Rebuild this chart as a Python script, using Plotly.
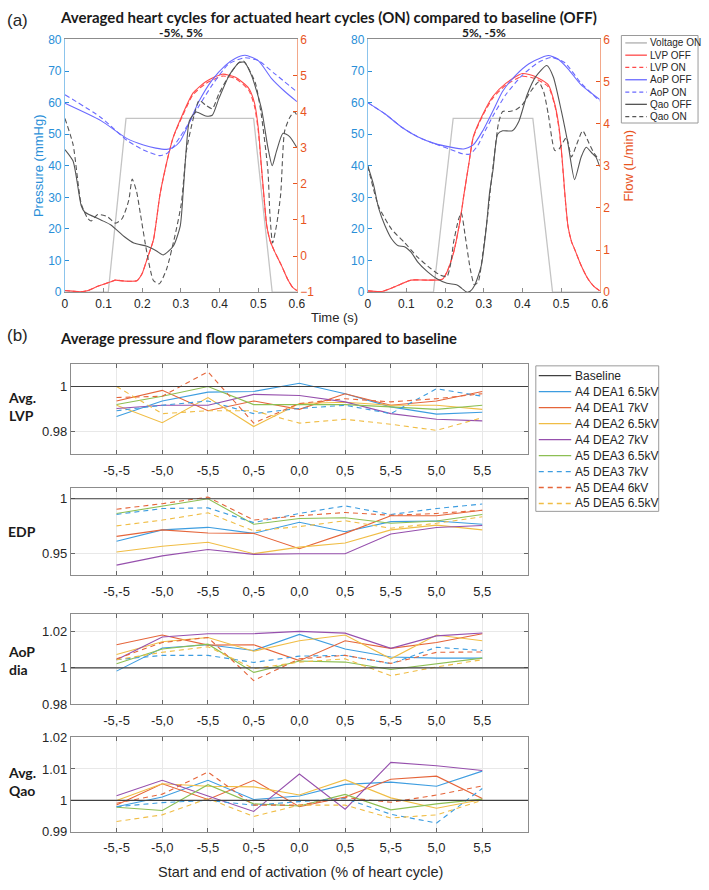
import plotly.graph_objects as go

W, H = 709, 890

# ================= (a) heart cycle data =================
# Left panel: activation -5%, 5%
T_VOLT_L = [0, 0.112, 0.158, 0.488, 0.536, 0.6]
VOLT_L = [0, 0, 55, 55, 0, 0]

T_LVP_L = [0, 0.02, 0.04, 0.06, 0.085, 0.119, 0.131, 0.153, 0.186, 0.199, 0.212, 0.229, 0.246, 0.265,
           0.28, 0.305, 0.331, 0.364, 0.407, 0.441, 0.475, 0.49, 0.5, 0.508, 0.515, 0.522, 0.53,
           0.542, 0.559, 0.576, 0.589, 0.6]
LVP_OFF_L = [0.5, 0.3, 0.1, 0.5, 1.85, 3.3, 3.8, 3.5, 3.6, 5.7, 10.3, 16.6, 31, 42,
             49, 56.5, 63, 66.6, 69, 68, 64.6, 60, 52, 40, 30, 21, 16.5,
             12.9, 8.7, 4.1, 1.5, 0.5]
LVP_ON_L = [0.5, 0.3, 0.1, 0.5, 1.85, 3.3, 3.8, 3.5, 3.6, 5.7, 10.3, 16.6, 31, 42,
            49, 56, 62.5, 66, 68.4, 67.6, 64, 59, 51, 39.5, 29.5, 21, 16.5,
            12.9, 8.7, 4.1, 1.5, 0.5]

T_AOP_OFF_L = [0, 0.093, 0.161, 0.203, 0.235, 0.263, 0.28, 0.297, 0.322, 0.347, 0.381, 0.415, 0.44,
               0.466, 0.5, 0.534, 0.568, 0.6]
AOP_OFF_L = [59.8, 54.3, 48.6, 46.6, 45.6, 45.2, 45.8, 47.6, 53.8, 60.5, 67.2, 71.8, 74,
             75, 73.3, 67.7, 63.6, 60.3]
T_AOP_ON_L = [0, 0.093, 0.161, 0.203, 0.246, 0.265, 0.28, 0.297, 0.322, 0.347, 0.381, 0.424, 0.466,
              0.5, 0.542, 0.6]
AOP_ON_L = [62.5, 55.3, 48, 45, 43.2, 44, 46, 49, 53.8, 59, 65.6, 72.3, 74.2,
            73.3, 69.2, 63.4]

T_QAO_OFF_L = [0, 0.021, 0.042, 0.051, 0.093, 0.119, 0.153, 0.178, 0.212, 0.237, 0.254, 0.28, 0.298,
               0.306, 0.314, 0.322, 0.339, 0.364, 0.381, 0.398, 0.424, 0.449, 0.464, 0.483, 0.508,
               0.525, 0.536, 0.547, 0.564, 0.581, 0.6]
QAO_OFF_L = [2.95, 2.63, 1.4, 1.22, 1.0, 0.86, 0.54, 0.36, 0.27, 0.14, 0.03, 0.27, 0.82,
             1.8, 3.0, 3.75, 3.99, 3.88, 3.9, 4.36, 4.99, 5.35, 5.37, 4.99, 4.09,
             3.0, 2.5, 2.9, 3.4, 3.31, 3.0]
T_QAO_ON_L = [0, 0.021, 0.042, 0.059, 0.068, 0.085, 0.11, 0.131, 0.148, 0.165, 0.174, 0.185, 0.195,
              0.212, 0.229, 0.244, 0.263, 0.284, 0.301, 0.314, 0.331, 0.347, 0.364, 0.381, 0.398,
              0.424, 0.449, 0.462, 0.492, 0.508, 0.525, 0.53, 0.537, 0.548, 0.558, 0.568, 0.581,
              0.593, 0.6]
QAO_ON_L = [3.81, 3.09, 1.45, 1.04, 0.97, 1.15, 1.09, 0.91, 1.04, 1.54, 2.13, 1.8, 1.18,
            0.09, -0.68, -0.77, -0.36, 0.54, 1.45, 2.9, 3.77, 4.31, 4.18, 4.08, 4.49,
            4.99, 5.35, 5.4, 4.81, 3.9, 2.36, 1.18, 0.36, 0.9, 1.72, 3.45, 3.83,
            4.0, 3.9]

# Right panel: activation 5%, -5%
T_VOLT_R = [0, 0.17, 0.221, 0.427, 0.478, 0.6]
VOLT_R = [0, 0, 55, 55, 0, 0]

T_LVP_R = [0, 0.036, 0.07, 0.112, 0.155, 0.193, 0.205, 0.222, 0.239, 0.249, 0.262, 0.273, 0.298,
           0.324, 0.357, 0.4, 0.434, 0.467, 0.484, 0.495, 0.503, 0.51, 0.518, 0.527, 0.535, 0.552,
           0.569, 0.585, 0.6]
LVP_OFF_R = [0.4, 0.2, 1.7, 3.8, 3.8, 4.1, 6.4, 12.5, 22.8, 31, 41, 49.2, 56.4,
             62, 66.1, 69.2, 68.2, 65.6, 59.4, 52, 42, 31, 20.8, 16, 13.6, 8.4,
             4.3, 1.8, 0.4]
LVP_ON_R = [0.4, 0.2, 1.7, 3.8, 3.8, 4.1, 6.4, 12.5, 22.8, 31, 41, 49, 56,
            61.5, 65.5, 68.3, 67.6, 65, 59, 51.5, 41.5, 30.5, 20.8, 16, 13.6, 8.4,
            4.3, 1.8, 0.4]

T_AOP_OFF_R = [0, 0.045, 0.087, 0.129, 0.172, 0.214, 0.248, 0.273, 0.298, 0.324, 0.349, 0.383, 0.417,
               0.45, 0.467, 0.492, 0.518, 0.552, 0.6]
AOP_OFF_R = [60, 56.4, 52.3, 49.2, 47.1, 45.9, 45.3, 46.6, 51.2, 57.4, 63.6, 68.7, 72.3,
             74.3, 74.9, 73.8, 70.7, 65.6, 61]
T_AOP_ON_R = [0, 0.045, 0.087, 0.129, 0.172, 0.214, 0.245, 0.265, 0.285, 0.298, 0.324, 0.357, 0.4,
              0.442, 0.476, 0.51, 0.552, 0.6]
AOP_ON_R = [60, 56.4, 52.3, 49.2, 47, 45.2, 43.8, 43.7, 46.5, 49.7, 55.8, 62.5, 68.7,
            72.8, 74.3, 72.6, 66.1, 60.5]

T_QAO_OFF_R = [0, 0.015, 0.028, 0.045, 0.062, 0.079, 0.095, 0.112, 0.129, 0.155, 0.18, 0.205, 0.231,
               0.243, 0.256, 0.265, 0.277, 0.294, 0.307, 0.315, 0.324, 0.336, 0.349, 0.374, 0.391,
               0.412, 0.434, 0.463, 0.48, 0.501, 0.518, 0.535, 0.552, 0.565, 0.581, 0.59, 0.6]
QAO_OFF_R = [3.0, 2.55, 2.0, 1.57, 1.26, 1.1, 1.08, 0.95, 0.72, 0.48, 0.31, 0.21, 0.17,
             0.09, 0.0, 0.02, 0.17, 0.64, 1.57, 2.35, 2.9, 3.75, 3.83, 3.83, 4.06,
             4.68, 5.11, 5.38, 5.11, 4.29, 3.52, 2.67, 3.21, 3.44, 3.29, 3.21, 2.98]
T_QAO_ON_R = [0, 0.028, 0.062, 0.095, 0.129, 0.163, 0.188, 0.205, 0.215, 0.222, 0.235, 0.242, 0.252,
              0.265, 0.276, 0.286, 0.298, 0.311, 0.318, 0.328, 0.338, 0.349, 0.366, 0.383, 0.4,
              0.421, 0.442, 0.455, 0.467, 0.484, 0.495, 0.505, 0.514, 0.527, 0.54, 0.556, 0.573,
              0.586, 0.6]
QAO_ON_R = [3.0, 2.04, 1.49, 1.18, 0.83, 0.56, 0.4, 0.37, 0.7, 1.18, 1.73, 1.88, 1.34,
            0.56, 0.17, 0.25, 0.95, 1.88, 2.5, 3.29, 4.0, 4.29, 4.29, 4.33, 4.45,
            4.76, 4.99, 4.76, 4.22, 3.36, 3.4, 3.56, 3.67, 3.21, 3.5, 3.83, 3.52,
            3.29, 3.13]

TIME_TICKS = [0, 0.1, 0.2, 0.3, 0.4, 0.5, 0.6]

# ================= (b) parameter data =================
CATEGORIES = ["-5,-5", "-5,0", "-5,5", "0,-5", "0,0", "0,5", "5,-5", "5,0", "5,5"]
SERIES = ["A4 DEA1 6.5kV", "A4 DEA1 7kV", "A4 DEA2 6.5kV", "A4 DEA2 7kV",
          "A5 DEA3 6.5kV", "A5 DEA3 7kV", "A5 DEA4 6kV", "A5 DEA5 6.5kV"]
BASELINE = 1.0

AVG_LVP = [
    [0.9867, 0.9936, 0.9975, 0.9978, 1.0014, 0.9968, 0.9910, 0.9878, 0.9886],
    [0.9936, 0.9983, 0.9893, 0.9936, 0.9899, 0.9968, 0.9917, 0.9936, 0.9978],
    [0.9917, 0.9840, 0.9951, 0.9823, 0.9925, 0.9930, 0.9917, 0.9917, 0.9899],
    [0.9903, 0.9917, 0.9917, 0.9965, 0.9960, 0.9932, 0.9880, 0.9855, 0.9848],
    [0.9920, 0.9957, 1.0000, 0.9920, 0.9920, 0.9920, 0.9910, 0.9899, 0.9917],
    [0.9893, 0.9917, 0.9936, 0.9880, 0.9903, 0.9917, 0.9880, 0.9990, 0.9957],
    [0.9951, 0.9957, 1.0065, 0.9838, 0.9925, 0.9946, 0.9932, 0.9946, 0.9968],
    [1.0000, 0.9880, 0.9893, 0.9893, 0.9838, 0.9855, 0.9833, 0.9806, 0.9862],
]
EDP = [
    [0.9613, 0.9717, 0.9740, 0.9685, 0.9786, 0.9700, 0.9792, 0.9798, 0.9768],
    [0.9658, 0.9717, 0.9688, 0.9685, 0.9545, 0.9685, 0.9845, 0.9845, 0.9896],
    [0.9515, 0.9568, 0.9604, 0.9500, 0.9560, 0.9598, 0.9717, 0.9760, 0.9717],
    [0.9396, 0.9480, 0.9538, 0.9494, 0.9500, 0.9500, 0.9679, 0.9738, 0.9756],
    [0.9866, 0.9935, 1.0000, 0.9768, 0.9820, 0.9827, 0.9777, 0.9798, 0.9857],
    [0.9857, 0.9911, 0.9917, 0.9783, 0.9866, 0.9935, 0.9857, 0.9911, 0.9952],
    [0.9905, 0.9955, 1.0015, 0.9806, 0.9845, 0.9875, 0.9850, 0.9866, 0.9896],
    [0.9753, 0.9806, 0.9872, 0.9708, 0.9747, 0.9800, 0.9732, 0.9777, 0.9836],
]
AOP_DIA = [
    [0.9982, 1.0110, 1.0128, 1.0096, 1.0185, 1.0104, 1.0060, 1.0054, 1.0054],
    [1.0128, 1.0182, 1.0126, 1.0128, 1.0040, 1.0150, 1.0108, 1.0140, 1.0189],
    [1.0074, 1.0144, 1.0168, 1.0092, 1.0150, 1.0182, 1.0050, 1.0182, 1.0150],
    [1.0045, 1.0171, 1.0189, 1.0189, 1.0202, 1.0192, 1.0108, 1.0177, 1.0193],
    [1.0023, 1.0104, 1.0131, 0.9975, 1.0038, 1.0032, 0.9991, 1.0023, 1.0054],
    [1.0045, 1.0069, 1.0069, 1.0030, 1.0065, 1.0069, 1.0023, 1.0114, 1.0096],
    [1.0050, 1.0140, 1.0168, 0.9930, 1.0050, 1.0069, 1.0025, 1.0086, 1.0088],
    [1.0045, 1.0086, 1.0117, 0.9996, 1.0032, 1.0050, 0.9957, 1.0005, 1.0045],
]
AVG_QAO = [
    [0.9980, 1.0011, 1.0064, 1.0003, 1.0014, 1.0051, 1.0058, 1.0045, 1.0093],
    [0.9985, 1.0053, 1.0003, 1.0064, 0.9980, 1.0011, 1.0067, 1.0077, 1.0006],
    [1.0000, 1.0053, 1.0045, 1.0043, 1.0017, 1.0066, 1.0008, 0.9975, 1.0003],
    [1.0015, 1.0064, 1.0014, 0.9965, 1.0084, 0.9972, 1.0121, 1.0110, 1.0095],
    [0.9978, 0.9968, 1.0050, 0.9989, 0.9982, 1.0019, 0.9970, 0.9989, 1.0004],
    [0.9980, 0.9993, 1.0000, 0.9985, 0.9996, 1.0006, 0.9956, 0.9928, 1.0038],
    [0.9991, 1.0020, 1.0090, 0.9985, 0.9985, 1.0009, 0.9994, 1.0017, 1.0046],
    [0.9933, 0.9954, 1.0006, 0.9949, 0.9985, 0.9985, 0.9944, 0.9954, 1.0000],
]

# ================= styling =================
SER_COLORS = ["#3d9de0", "#e5653a", "#f0bd45", "#9650ad", "#8dbf53", "#3d9de0", "#e5653a", "#f0bd45"]
SER_DASH = ["solid", "solid", "solid", "solid", "solid", "5px,4px", "5px,4px", "5px,4px"]
C_VOLT, C_LVP, C_AOP, C_QAO = "#c4c4c4", "#ff4a4a", "#6a6aff", "#555555"
C_LEFT, C_RIGHT = "#2a8fd8", "#e8541e"
TICK_FONT = "Liberation Sans, Arial, sans-serif"
BOLD_FONT = "Lato, Open Sans, sans-serif"
AX_GRAY = "#8c8c8c"


def fx(p):
    return p / W


def fy(p):
    return 1 - p / H


fig = go.Figure()


def line(x, y, color, dash, xa, ya, spline=True, width=1.1):
    fig.add_trace(go.Scatter(
        x=x, y=y, mode="lines", xaxis=xa, yaxis=ya, showlegend=False, hoverinfo="skip",
        line=dict(color=color, dash=dash, width=width,
                  shape="spline" if spline else "linear", smoothing=0.6)))


DASH_A = "5px,3px"
# left panel (x, y = pressure, y2 = flow)
line(T_VOLT_L, VOLT_L, C_VOLT, "solid", "x", "y", spline=False, width=1.3)
line(T_LVP_L, LVP_OFF_L, C_LVP, "solid", "x", "y")
line(T_LVP_L, LVP_ON_L, C_LVP, DASH_A, "x", "y")
line(T_AOP_OFF_L, AOP_OFF_L, C_AOP, "solid", "x", "y")
line(T_AOP_ON_L, AOP_ON_L, C_AOP, DASH_A, "x", "y")
line(T_QAO_OFF_L, QAO_OFF_L, C_QAO, "solid", "x", "y2")
line(T_QAO_ON_L, QAO_ON_L, C_QAO, DASH_A, "x", "y2")
# right panel (x2, y3 = pressure, y4 = flow)
line(T_VOLT_R, VOLT_R, C_VOLT, "solid", "x2", "y3", spline=False, width=1.3)
line(T_LVP_R, LVP_OFF_R, C_LVP, "solid", "x2", "y3")
line(T_LVP_R, LVP_ON_R, C_LVP, DASH_A, "x2", "y3")
line(T_AOP_OFF_R, AOP_OFF_R, C_AOP, "solid", "x2", "y3")
line(T_AOP_ON_R, AOP_ON_R, C_AOP, DASH_A, "x2", "y3")
line(T_QAO_OFF_R, QAO_OFF_R, C_QAO, "solid", "x2", "y4")
line(T_QAO_ON_R, QAO_ON_R, C_QAO, DASH_A, "x2", "y4")

# bottom panels
PANELS = [AVG_LVP, EDP, AOP_DIA, AVG_QAO]
for k, data in enumerate(PANELS):
    xa, ya = "x%d" % (k + 3), "y%d" % (k + 5)
    for i, vals in enumerate(data):
        line(CATEGORIES, vals, SER_COLORS[i], SER_DASH[i], xa, ya, spline=False, width=1.1)

layout = dict(
    width=W, height=H, margin=dict(l=0, r=0, t=0, b=0),
    paper_bgcolor="white", plot_bgcolor="white", showlegend=False,
    font=dict(family=TICK_FONT, size=12, color="#262626"),
)

top_y = [fy(290), fy(33)]
xcommon_top = dict(range=[0, 0.6], tickvals=TIME_TICKS, ticktext=[("%g" % v) for v in TIME_TICKS],
                   showline=True, linecolor=AX_GRAY, linewidth=1, mirror=True,
                   ticks="inside", ticklen=4, tickcolor=AX_GRAY, showgrid=False, zeroline=False,
                   tickfont=dict(size=12, color="#262626"))
layout["xaxis"] = dict(domain=[fx(63), fx(299)], anchor="y", **xcommon_top)
layout["xaxis2"] = dict(domain=[fx(371), fx(607)], anchor="y3", **xcommon_top)

yl = dict(range=[0, 80], dtick=10, showline=True, linecolor="#8cc4ec", linewidth=1,
          ticks="inside", ticklen=4, tickcolor=C_LEFT, showgrid=False, zeroline=False,
          tickfont=dict(size=12, color=C_LEFT))
layout["yaxis"] = dict(domain=top_y, anchor="x",
                       title=dict(text="Pressure (mmHg)", font=dict(size=13, color=C_LEFT), standoff=1),
                       **yl)
layout["yaxis3"] = dict(domain=top_y, anchor="x2", **yl)
yr = dict(showline=True, linecolor="#f3a88a", linewidth=1, side="right",
          ticks="inside", ticklen=4, tickcolor=C_RIGHT, showgrid=False, zeroline=False,
          tickfont=dict(size=12, color=C_RIGHT), dtick=1)
layout["yaxis2"] = dict(overlaying="y", anchor="x", range=[-1, 6], **yr)
layout["yaxis4"] = dict(overlaying="y3", anchor="x2", range=[0, 6],
                        title=dict(text="Flow (L/min)", font=dict(size=13, color=C_RIGHT), standoff=14),
                        **yr)

B_Y = [(363, 455), (489, 578), (617, 709), (743, 839)]
B_RANGE = [[0.97, 1.01], [0.9304, 1.01], [0.98, 1.03], [0.99, 1.02]]
B_TICKS = [[0.98, 1.0], [0.95, 1.0], [0.98, 1.0, 1.02], [0.99, 1.0, 1.01, 1.02]]
for k in range(4):
    layout["xaxis%d" % (k + 3)] = dict(
        domain=[fx(69), fx(534)], anchor="y%d" % (k + 5), type="category",
        categoryorder="array", categoryarray=CATEGORIES, range=[-1, 9],
        showline=True, linecolor=AX_GRAY, linewidth=1, mirror="ticks",
        ticks="inside", ticklen=4, tickcolor="#666666", showgrid=True, gridcolor="#e8e8e8",
        zeroline=False, tickfont=dict(size=13, color="#262626"), ticklabelstandoff=4)
    layout["yaxis%d" % (k + 5)] = dict(
        domain=[fy(B_Y[k][1]), fy(B_Y[k][0])], anchor="x%d" % (k + 3), range=B_RANGE[k],
        tickvals=B_TICKS[k], ticktext=[("%g" % v) for v in B_TICKS[k]],
        showline=True, linecolor=AX_GRAY, linewidth=1, mirror="ticks",
        ticks="inside", ticklen=4, tickcolor="#666666", showgrid=True, gridcolor="#e8e8e8",
        zeroline=False, tickfont=dict(size=13, color="#262626"))
fig.update_layout(**layout)

ann = []
shapes = []

# baseline reference line in each bottom panel
for k in range(4):
    shapes.append(dict(type="line", xref="x%d domain" % (k + 3), yref="y%d" % (k + 5),
                       x0=0, x1=1, y0=BASELINE, y1=BASELINE,
                       line=dict(color="#404040", width=1.2)))


def text(x, y, s, size, bold=False, color="#262626", xanchor="center", family=None):
    ann.append(dict(x=fx(x), y=fy(y), xref="paper", yref="paper", text=s, showarrow=False,
                    xanchor=xanchor, yanchor="middle", align="left",
                    font=dict(size=size, color=color, family=family or (BOLD_FONT if bold else TICK_FONT))))


text(15, 14, "(a)", 17, family=TICK_FONT)
text(56, 10, "<b>Averaged heart cycles for actuated heart cycles (ON) compared to baseline (OFF)</b>", 15,
     bold=True, xanchor="left", color="#1a1a1a")
text(181, 26, "<b>-5%, 5%</b>", 12, bold=True, color="#1a1a1a")
text(489, 26, "<b>5%, -5%</b>", 12, bold=True, color="#1a1a1a")
text(337, 316, "Time (s)", 13)
text(15, 334, "(b)", 17, family=TICK_FONT)
text(56, 337, "<b>Average pressure and flow parameters compared to baseline</b>", 14.8,
     bold=True, xanchor="left", color="#1a1a1a")
text(3, 406, "<b>Avg.<br>LVP</b>", 14, bold=True, xanchor="left", color="#1a1a1a")
text(3, 533, "<b>EDP</b>", 14, bold=True, xanchor="left", color="#1a1a1a")
text(3, 665, "<b>AoP<br>dia</b>", 14, bold=True, xanchor="left", color="#1a1a1a")
text(3, 788, "<b>Avg.<br>Qao</b>", 14, bold=True, xanchor="left", color="#1a1a1a")
text(303, 880, "Start and end of activation (% of heart cycle)", 14.5)

# legend (a)
LEG_A_NAMES = ["Voltage ON", "LVP OFF", "LVP ON", "AoP OFF", "AoP ON", "Qao OFF", "Qao ON"]
LEG_A_COLORS = [C_VOLT, C_LVP, C_LVP, C_AOP, C_AOP, C_QAO, C_QAO]
LEG_A_DASH = ["solid", "solid", "dash", "solid", "dash", "solid", "dash"]
shapes.append(dict(type="rect", xref="paper", yref="paper", x0=fx(629), x1=fx(707), y0=fy(118), y1=fy(29),
                   line=dict(color="#9a9a9a", width=1), fillcolor="white"))
for i, nm in enumerate(LEG_A_NAMES):
    yy = 36.5 + i * 12.5
    shapes.append(dict(type="line", xref="paper", yref="paper", x0=fx(633), x1=fx(655), y0=fy(yy), y1=fy(yy),
                       line=dict(color=LEG_A_COLORS[i], width=1.8 if i == 0 else 1.3,
                                 dash="4px,3px" if LEG_A_DASH[i] == "dash" else "solid")))
    text(656, yy, nm, 10, xanchor="left")

# legend (b)
shapes.append(dict(type="rect", xref="paper", yref="paper", x0=fx(542), x1=fx(667), y0=fy(513), y1=fy(365),
                   line=dict(color="#9a9a9a", width=1), fillcolor="white"))
LEG_B_NAMES = ["Baseline"] + SERIES
LEG_B_COLORS = ["#404040"] + SER_COLORS
LEG_B_DASH = ["solid"] + SER_DASH
for i, nm in enumerate(LEG_B_NAMES):
    yy = 375 + i * 16.25
    shapes.append(dict(type="line", xref="paper", yref="paper", x0=fx(545), x1=fx(578), y0=fy(yy), y1=fy(yy),
                       line=dict(color=LEG_B_COLORS[i], width=1.3, dash=LEG_B_DASH[i])))
    text(580, yy, nm, 12, xanchor="left")

fig.update_layout(annotations=ann, shapes=shapes)
fig.write_html("out.html", config={"displayModeBar": False},
               post_script="document.body.style.margin='0';")
